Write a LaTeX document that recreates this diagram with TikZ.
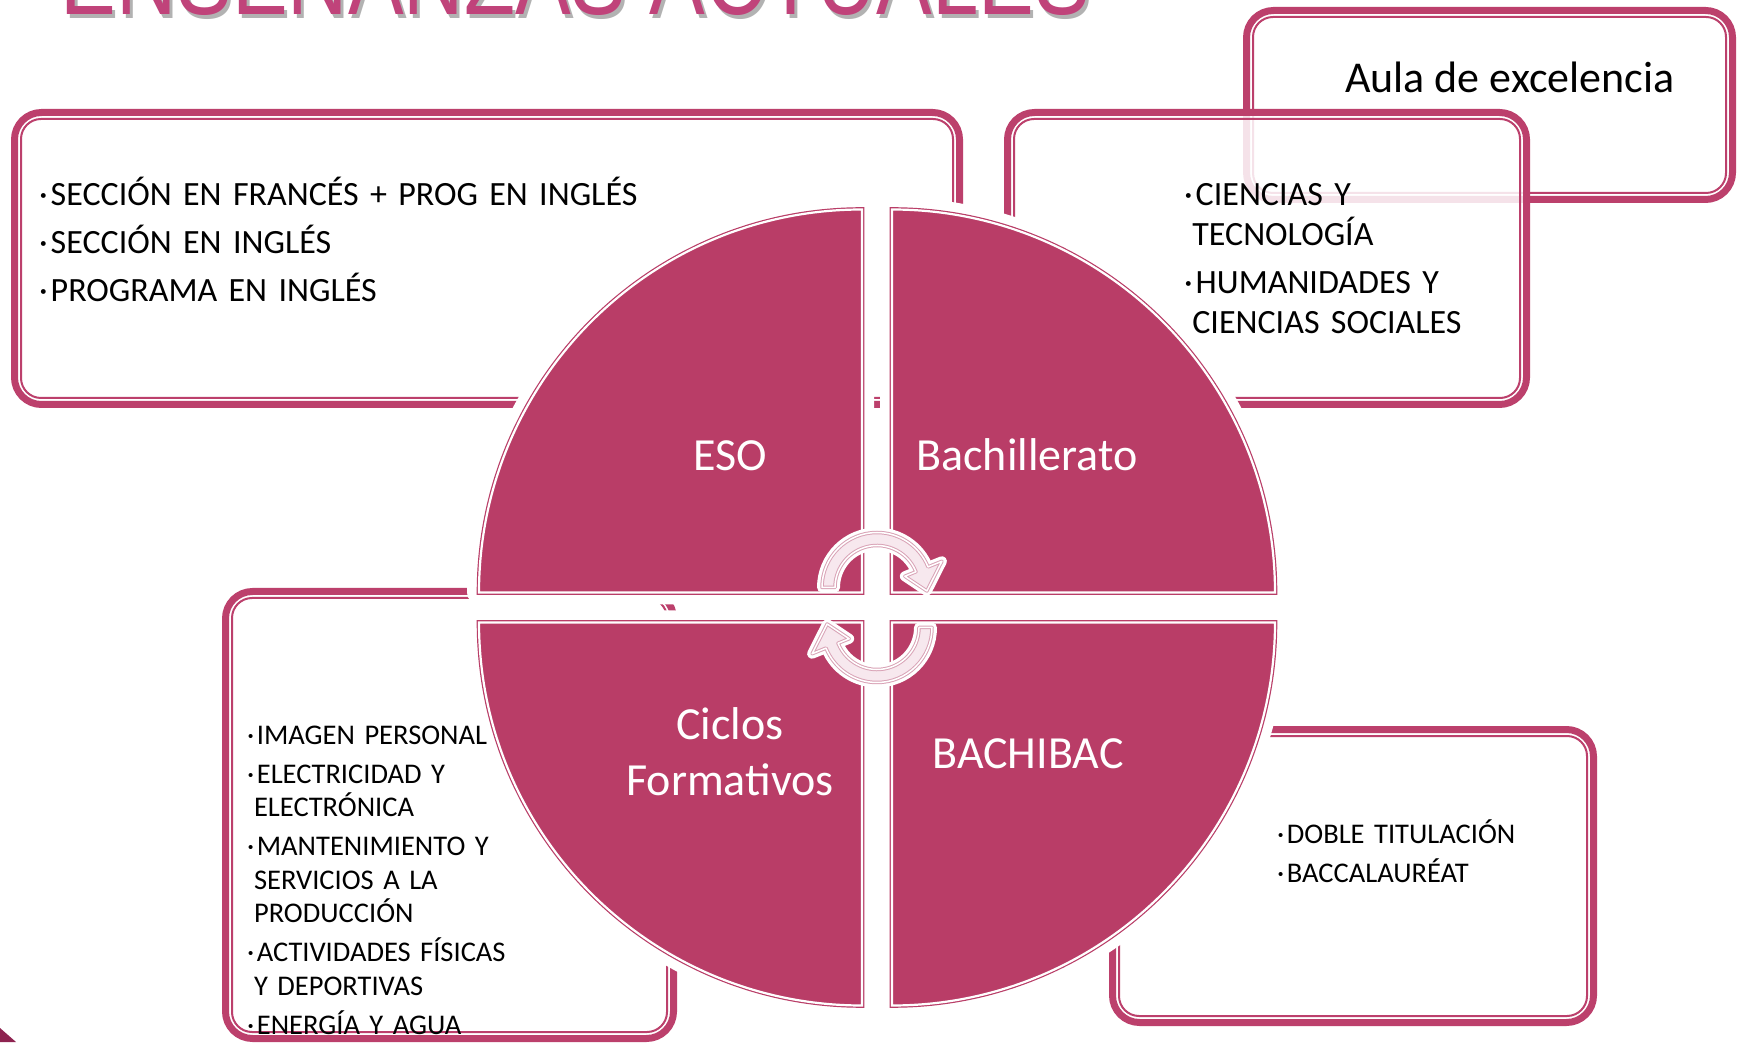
\documentclass[tikz,border=0pt]{standalone}
\usepackage{graphicx}
\usepackage{fontspec}
\setmainfont{Carlito}
\newfontfamily\titlefont{Liberation Sans}

\definecolor{quadPink}{HTML}{B93D67}
\definecolor{framePink}{HTML}{BC406C}
\definecolor{arrowPink}{HTML}{D9A3B6}
\definecolor{arrowFill}{HTML}{F7E8EE}
\definecolor{titlePink}{HTML}{C0437A}
\definecolor{cornerPink}{HTML}{8E2350}

\newcommand\bul{\makebox[0.34em][l]{·}}
\newcommand\cont{\hspace*{0.24em}}
\newcommand\innerframe[1]{\draw[innerline] ([shift={(6.5,6.5)}]#1.south west) rectangle ([shift={(-6.5,-6.5)}]#1.north east);}

\tikzset{
  boxframe/.style={draw=framePink, line width=7, rounded corners=27, fill=white,
                   inner sep=0, outer sep=0, anchor=north west},
  innerline/.style={draw=framePink, line width=2, rounded corners=20},
  quadrant/.style={fill=quadPink, draw=quadPink, line width=1.2, double=white,
                   double distance=2.2,
                   preaction={draw=white, line width=24, line join=round}},
  cyclearrow/.style={fill=arrowFill, draw=arrowPink, line width=1, double=white,
                     double distance=1.5, line join=round,
                     preaction={draw=white, line width=10, line join=round}},
  quadlabel/.style={anchor=base, text=white, inner sep=0,
                    font=\fontsize{46}{55}\selectfont},
  listtext/.style={anchor=base west, inner sep=0, align=left}
}

\begin{document}
\begin{tikzpicture}[x=1pt, y=1pt]
    % canvas %
    \fill[white] (0,0) rectangle (1739,1042);
    \useasboundingbox (0,0) rectangle (1739,1042);

    % title, cut by the top edge
    \node[anchor=base, inner sep=0, text=gray!60] (title-shadow) at (578.5,1023)
          {\titlefont\fontsize{105}{105}\selectfont\scalebox{0.795}[1]{ENSEÑANZAS ACTUALES}};
    \node[anchor=base, inner sep=0, text=titlePink] (title) at (575.5,1027)
          {\titlefont\fontsize{105}{105}\selectfont\scalebox{0.795}[1]{ENSEÑANZAS ACTUALES}};

    % corner piece
    \fill[cornerPink] (0,0) -- (0,14) -- (16,0) -- cycle;

    % side boxes %
    \node[boxframe, minimum width=486, minimum height=189] (box-aula) at (1246.5,1031.5) {};
    \innerframe{box-aula}
    \node[boxframe, fill opacity=0.85, minimum width=519, minimum height=292] (box-bach) at (1007.5,929.5) {};
    \innerframe{box-bach}
    \node[boxframe, minimum width=945, minimum height=292] (box-eso) at (14.5,929.5) {};
    \innerframe{box-eso}
    \node[boxframe, minimum width=448, minimum height=447] (box-cf) at (225.5,450.5) {};
    \innerframe{box-cf}
    \node[boxframe, minimum width=481, minimum height=293] (box-bb) at (1112.5,312.5) {};
    \innerframe{box-bb}

    % four quadrants
    \foreach \sx/\sy/\a in {-1/1/90, 1/1/0, 1/-1/-90, -1/-1/180}
      \filldraw[quadrant] (877+15*\sx, 434.5+15*\sy) -- ++(\a+90:383)
            arc[start angle=\a+90, delta angle=-90, radius=383] -- cycle;

    % cycle arrows
    \foreach \r in {0,180} {
      \begin{scope}[rotate around={\r:(877,434.5)}, shift={(877,454.5)}]
        \filldraw[cyclearrow] (180:55) arc[start angle=180, end angle=22, radius=55]
              -- (22:70) -- (-4:50) -- (22:30) -- (22:42)
              arc[start angle=22, end angle=180, radius=42] -- cycle;
      \end{scope}
    }

    % quadrant labels
    \node[quadlabel] (eso) at (730,571) {ESO};
    \node[quadlabel] (bach) at (1027,571) {Bachillerato};
    \node[quadlabel, align=center, text width=300] (cf) at (730,302) {Ciclos\\Formativos};
    \node[quadlabel] (bb) at (1028,274) {BACHIBAC};

    % box texts
    \node[anchor=base west, inner sep=0, font=\fontsize{44}{50}\selectfont] (aula) at (1345,949)
          {Aula de excelencia};
    \node[listtext, text width=700, font=\fontsize{34}{48}\selectfont] (list-eso) at (39,836)
          {\bul SECCIÓN EN FRANCÉS + PROG EN INGLÉS\\
           \bul SECCIÓN EN INGLÉS\\
           \bul PROGRAMA EN INGLÉS};
    \node[listtext, text width=400, font=\fontsize{34}{40}\selectfont] (list-bach) at (1184,836)
          {\bul CIENCIAS Y\\ \cont TECNOLOGÍA\\[8pt]
           \bul HUMANIDADES Y\\ \cont CIENCIAS SOCIALES};
    \node[listtext, text width=400, font=\fontsize{28.5}{33.5}\selectfont] (list-cf) at (247,298)
          {\bul IMAGEN PERSONAL\\[5.5pt]
           \bul ELECTRICIDAD Y\\ \cont ELECTRÓNICA\\[5.5pt]
           \bul MANTENIMIENTO Y\\ \cont SERVICIOS A LA\\ \cont PRODUCCIÓN\\[5.5pt]
           \bul ACTIVIDADES FÍSICAS\\ \cont Y DEPORTIVAS\\[5.5pt]
           \bul ENERGÍA Y AGUA};
    \node[listtext, text width=400, font=\fontsize{28.5}{39}\selectfont] (list-bb) at (1277,199)
          {\bul DOBLE TITULACIÓN\\
           \bul BACCALAURÉAT};
\end{tikzpicture}
\end{document}
